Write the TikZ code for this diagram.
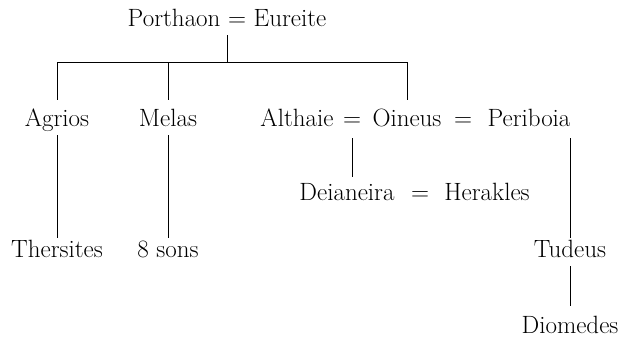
\documentclass[tikz,border=0pt]{standalone}
\usepackage{fontspec}
\begin{document}
\begin{tikzpicture}[x=1pt,y=-1pt,
  nm/.style={anchor=base,inner xsep=0pt,inner ysep=3pt,text height=17pt,text depth=5pt,font=\fontsize{25}{30}\selectfont\addfontfeatures{FakeBold=1.4}},
  ln/.style={line width=0.9pt}]
\useasboundingbox (0,0) rectangle (624,339);
% row 1
\node[nm] (pe) at (227,27) {Porthaon = Eureite};
% row 2
\node[nm] (agr) at (57,127) {Agrios};
\node[nm] (mel) at (168,127) {Melas};
\node[nm] (alth) at (297,127) {Althaie};
\node[nm] (eqa) at (352,127) {=};
\node[nm] (oin) at (407,127) {Oineus};
\node[nm] (eqb) at (463,127) {=};
\node[nm] (peri) at (529,127) {Periboia};
% row 2b
\node[nm] (dei) at (347,201) {Deianeira};
\node[nm] (eqd) at (420,201) {=};
\node[nm] (her) at (487,201) {Herakles};
% row 3
\node[nm] (thr) at (57,258) {Thersites};
\node[nm] (son) at (168,258) {8 sons};
\node[nm] (tud) at (570,258) {Tudeus};
% row 4
\node[nm] (dio) at (570,333) {Diomedes};
% connectors
\coordinate (bar) at (0,62);
\draw[ln] (pe.south) -- (pe.south |- bar);
\draw[ln] ([yshift=7pt]agr.north) -- (agr.north |- bar) -- (oin.north |- bar) -- ([yshift=7pt]oin.north);
\draw[ln] ([yshift=7pt]mel.north) -- (mel.north |- bar);
\draw[ln] (agr.south) -- (thr.north);
\draw[ln] (mel.south) -- (son.north);
\draw[ln] ([yshift=-3pt]eqa.south) -- ([yshift=4pt]eqa.south |- dei.north);
\draw[ln] ([yshift=-3pt]tud.north |- peri.south) -- (tud.north);
\draw[ln] (tud.south) -- ([yshift=7pt]dio.north);
\end{tikzpicture}
\end{document}
